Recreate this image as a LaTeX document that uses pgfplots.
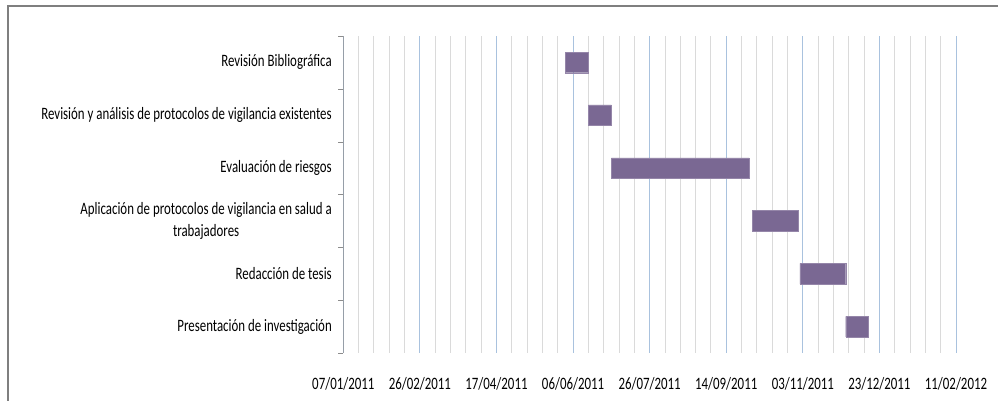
\documentclass[border=0pt]{standalone}
\usepackage{pgfplots}
\pgfplotsset{compat=1.18}
\usepackage{fontspec}
\setmainfont{Carlito}[FakeStretch=0.74]

\definecolor{barfill}{HTML}{7A6893}
\definecolor{gridminor}{HTML}{DADADA}
\definecolor{gridmajor}{HTML}{A9C2DE}
\definecolor{axisgray}{HTML}{8C8C8C}
\definecolor{framegray}{HTML}{7F7F7F}

% Task start (day offset from 07/01/2011) and duration in days
\begin{document}
\begin{tikzpicture}
\path[use as bounding box] (0,0) rectangle (998pt,401pt);
\draw[framegray, line width=2pt] (8pt,0) -- (8pt,394.5pt) -- (998pt,394.5pt);
\begin{axis}[
  at={(343.3pt,48pt)}, anchor=south west,
  scale only axis, width=612.7pt, height=317pt,
  xmin=0, xmax=400, ymin=0.5, ymax=6.5, y dir=reverse,
  xbar stacked, bar width=0.39,
  axis line style={draw=none},
  font=\fontsize{17.4}{22}\selectfont,
  /pgf/number format/assume math mode=true,
  xtick={0,10,...,400}, xticklabels={},
  xmajorgrids, major grid style={draw=gridminor, line width=0.9pt},
  extra x ticks={0,50,...,400},
  extra x tick labels={07/01/2011,26/02/2011,17/04/2011,06/06/2011,26/07/2011,14/09/2011,03/11/2011,23/12/2011,11/02/2012},
  extra x tick style={grid=major, major grid style={draw=gridmajor, line width=0.9pt}},
  xticklabel style={yshift=-21pt},
  ytick={1,...,6},
  yticklabels={Revisión Bibliográfica,
    Revisión y análisis de protocolos de vigilancia existentes,
    Evaluación de riesgos,
    {Aplicación de protocolos de vigilancia en salud a\\trabajadores},
    Redacción de tesis,
    Presentación de investigación},
  yticklabel style={align=center, xshift=-8pt},
  minor ytick={0.5,1.5,...,6.5},
  ytick pos=left, xtick pos=bottom, tick align=outside,
  major tick length=0pt, minor tick length=5pt,
  minor tick style={draw=axisgray},
]
\addplot[draw=none, fill=none, forget plot] coordinates {(145,1) (160,2) (175,3) (267,4) (298,5) (328,6)};
\addplot[fill=barfill, draw=barfill!80!white] coordinates {(15,1) (15,2) (90,3) (30,4) (30,5) (15,6)};
\draw[axisgray, line width=0.8pt] (rel axis cs:0,0) -- (rel axis cs:0,1);
\end{axis}
\end{tikzpicture}
\end{document}
